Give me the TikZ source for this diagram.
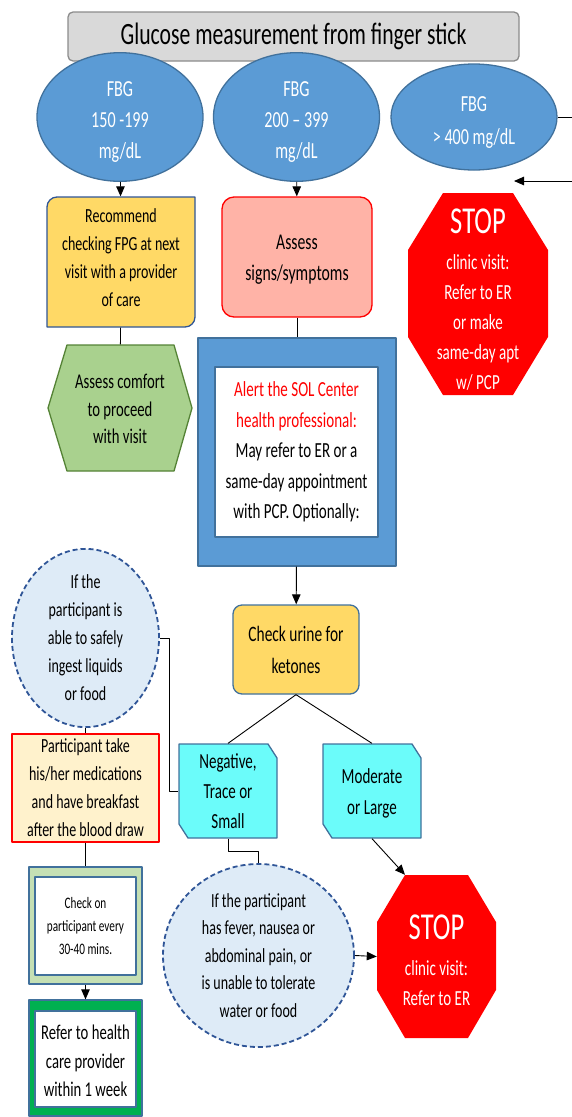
\documentclass[tikz,border=0pt]{standalone}
\usepackage{fontspec}
\setmainfont{Carlito}[FakeStretch=0.7]
\usetikzlibrary{shapes.geometric,arrows.meta}

\definecolor{fbgblue}{HTML}{5B9BD5}
\definecolor{edgeblue}{HTML}{41719C}
\definecolor{navy}{HTML}{2F5597}
\definecolor{yellowbox}{HTML}{FFD966}
\definecolor{pinkbox}{HTML}{FFB3A7}
\definecolor{greenhex}{HTML}{A9D18E}
\definecolor{darkgreen}{HTML}{548235}
\definecolor{stopred}{HTML}{FF0000}
\definecolor{cyanbox}{HTML}{6BFCFA}
\definecolor{paleblue}{HTML}{DEEBF7}
\definecolor{paleyellow}{HTML}{FFF2CC}
\definecolor{palegreen}{HTML}{C5E0B4}
\definecolor{brightgreen}{HTML}{00B050}
\definecolor{titlegray}{HTML}{D9D9D9}
\definecolor{titleedge}{HTML}{8C8C8C}
\newcommand{\fsz}[2]{\fontsize{#1}{#2}\selectfont}
% struts to nudge text up or down inside a node
\newcommand{\topstrut}[1]{\rule{0pt}{#1pt}}
\newcommand{\botstrut}[1]{\rule[-#1pt]{0pt}{#1pt}}

\begin{document}
\begin{tikzpicture}[x=1pt,y=-1pt,line join=round,
  box/.style={rectangle,align=center,inner sep=0pt,line width=1.3pt},
  fbg node/.style={ellipse,draw=edgeblue,fill=fbgblue,line width=1.3pt,minimum width=166,minimum height=106,inner sep=0pt,align=center,text=white,font=\fsz{23}{31}},
  dash node/.style={ellipse,draw=navy,fill=paleblue,line width=1.8pt,dash pattern=on 5pt off 3pt,inner sep=0pt,align=center,font=\fsz{20}{28}},
  stop text/.style={rectangle,align=center,inner sep=0pt,text=white,font=\fsz{21.5}{30}},
  arr/.style={-{Triangle[length=10pt,width=8.5pt]}},
  con/.style={line width=0.9pt}]
\useasboundingbox (0,0) rectangle (572,1117);

% hand drawn outlines
\filldraw[fill=yellowbox,draw=navy,line width=1.3pt] (47,327) -- (47,207) arc[start angle=180,end angle=270,radius=10] -- (195,197) -- (195,317) arc[start angle=0,end angle=90,radius=10] -- cycle;
\filldraw[fill=greenhex,draw=darkgreen,line width=1.3pt] (48,408) -- (67,345) -- (174,345) -- (192,408) -- (174,471) -- (67,471) -- cycle;
\fill[stopred] (443,193) -- (513,193) -- (548,250) -- (548,337) -- (513,395) -- (443,395) -- (408,337) -- (408,250) -- cycle;
\filldraw[fill=cyanbox,draw=edgeblue,line width=1.3pt] (179,744) -- (268,744) -- (277,758) -- (277,838) -- (188,838) -- (179,824) -- cycle;
\filldraw[fill=cyanbox,draw=edgeblue,line width=1.3pt] (323,744) -- (412,744) -- (421,758) -- (421,838) -- (332,838) -- (323,824) -- cycle;
\fill[stopred] (405,875) -- (468,875) -- (496,922) -- (496,990) -- (468,1038) -- (405,1038) -- (377,990) -- (377,922) -- cycle;

\node[box,draw=titleedge,fill=titlegray,rounded corners=5,minimum width=451,minimum height=49,font=\fsz{31}{36}] (title) at (293.5,36.5) {Glucose measurement from finger stick};
\node[fbg node] (fbg1) at (120,117) {\topstrut{25}FBG\\150 -199\\mg/dL};
\node[fbg node] (fbg2) at (296.5,117) {\topstrut{25}FBG\\200 – 399\\mg/dL};
\node[fbg node,font=\fsz{23}{33}] (fbg3) at (474,117) {\topstrut{25}FBG\\> 400 mg/dL};
\coordinate (stopin) at (514,181);

\node[box,minimum width=148,minimum height=130,font=\fsz{20}{28}] (recommend) at (121,262) {Recommend\\checking FPG at next\\visit with a provider\\of care\botstrut{8}};
\node[box,draw=red,fill=pinkbox,rounded corners=12,minimum width=150,minimum height=120,font=\fsz{22.5}{31}] (assess) at (297,257) {\topstrut{20}Assess\\signs/symptoms};
\node[stop text,minimum width=140,minimum height=202] (stop1) at (478,294) {\topstrut{35}{\fsz{38}{40}STOP}\\[6pt]clinic visit:\\Refer to ER\\or make\\same-day apt\\w/ PCP};
\node[box,minimum width=144,minimum height=126,font=\fsz{21}{27.5}] (comfort) at (120,408) {\topstrut{17}Assess comfort\\to proceed\\with visit};
\node[box,draw=edgeblue,fill=fbgblue,minimum width=198,minimum height=228] (alertbox) at (297,452) {};
\node[box,draw=edgeblue,fill=white,line width=1.6pt,minimum width=163,minimum height=170,font=\fsz{21.5}{30.5}] (alert) at (296.5,452) {\textcolor{red}{Alert the SOL Center}\\\textcolor{red}{health professional:}\\May refer to ER or a\\same-day appointment\\with PCP. Optionally:};

\node[box,draw=edgeblue,fill=yellowbox,rounded corners=9,minimum width=126,minimum height=89,font=\fsz{22}{32}] (urine) at (296,649.5) {Check urine for\\ketones};
\node[box,minimum width=98,minimum height=94,font=\fsz{21.5}{30}] (neg) at (228,791) {Negative,\\Trace or\\Small};
\node[box,minimum width=98,minimum height=94,font=\fsz{21.5}{31}] (mod) at (372,791) {\topstrut{19}Moderate\\or Large};
\node[dash node,minimum width=147,minimum height=142] (ingest) at (85.5,638) {If the\\participant is\\able to safely\\ingest liquids\\or food};
\node[box,draw=red,fill=paleyellow,line width=1.2pt,minimum width=147,minimum height=108,font=\fsz{20}{28}] (meds) at (85.5,788) {Participant take\\his/her medications\\and have breakfast\\after the blood draw};

\node[box,draw=edgeblue,fill=palegreen,minimum width=113,minimum height=117] (checkbox) at (85.5,925.5) {};
\node[box,draw=edgeblue,fill=white,line width=2pt,minimum width=101,minimum height=98,font=\fsz{16}{23}] (checkon) at (85.5,926) {Check on\\participant every\\30-40 mins.};
\node[box,draw=edgeblue,fill=brightgreen,minimum width=113,minimum height=116] (referbox) at (85.5,1058) {};
\node[box,draw=edgeblue,fill=white,line width=2pt,minimum width=101,minimum height=96,font=\fsz{21}{28.5}] (refer) at (85.5,1059) {\topstrut{19}Refer to health\\care provider\\within 1 week};
\node[dash node,minimum width=191,minimum height=183,font=\fsz{20}{27.5}] (fever) at (258.5,955.5) {If the participant\\has fever, nausea or\\abdominal pain, or\\is unable to tolerate\\water or food};
\node[stop text,minimum width=119,minimum height=163] (stop2) at (436.5,956.5) {\topstrut{33}{\fsz{38}{40}STOP}\\[6pt]clinic visit:\\Refer to ER};

\begin{scope}[con]
\draw (fbg1) edge[arr] (recommend);
\draw (fbg2) edge[arr] (assess);
\draw[arr] (fbg3.east) -- ++(30,0) |- (stopin);
\draw (recommend) edge (comfort);
\draw (assess) edge (alertbox);
\draw (alertbox) edge[arr] (urine);
\draw (urine.south) -- (neg.north);
\draw (urine.south) -- (mod.north);
\draw (ingest) edge (meds);
\draw (ingest.east) -- ++(10,0) |- (neg.west);
\draw (neg.south) -- ++(0,13) -| (fever.north);
\draw[arr] (mod.south) -- ([xshift=-31.5]stop2.north);
\draw[arr] (fever.east) -- (stop2.west);
\draw (meds) edge (checkbox);
\draw (checkbox) edge[arr] (referbox);
\end{scope}
\end{tikzpicture}
\end{document}
